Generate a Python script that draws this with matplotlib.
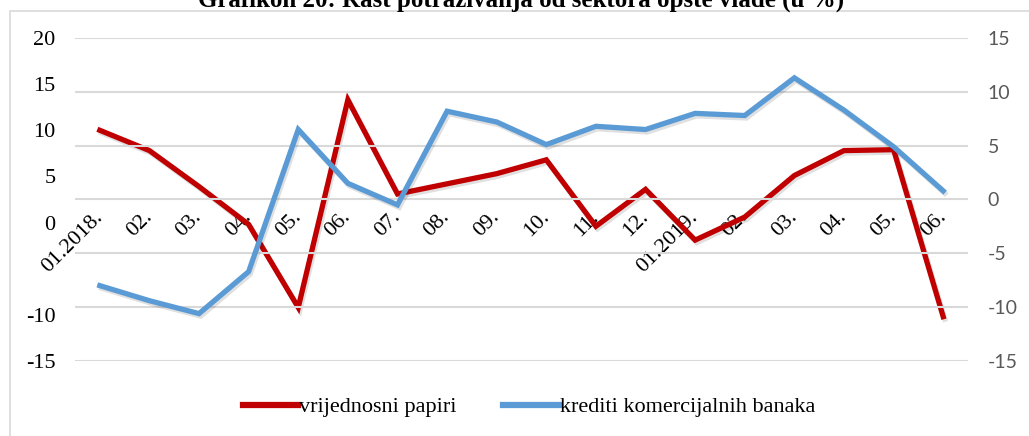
import matplotlib
matplotlib.use("Agg")
import matplotlib.pyplot as plt
import matplotlib.patheffects as pe
from matplotlib.patches import Rectangle

# ---- data ----
categories = ["01.2018.", "02.", "03.", "04.", "05.", "06.", "07.", "08.", "09.",
              "10.", "11.", "12.", "01.2019.", "02.", "03.", "04.", "05.", "06."]
vrijednosni_papiri = [10.0, 7.8, 3.9, -0.2, -9.2, 13.3, 3.1, 4.2, 5.3,
                      6.8, -0.4, 3.6, -1.9, 0.6, 5.1, 7.8, 7.9, -10.2]
krediti_banaka = [-8.0, -9.4, -10.6, -6.7, 6.5, 1.5, -0.5, 8.2, 7.2,
                  5.1, 6.8, 6.5, 8.0, 7.8, 11.3, 8.3, 4.9, 0.8]
left_ticks = [20, 15, 10, 5, 0, -10, -15]
right_ticks = [15, 10, 5, 0, -5, -10, -15]
title = "Grafikon 20: Rast potraživanja od sektora opšte vlade (u %)"
series_names = ["vrijednosni papiri", "krediti komercijalnih banaka"]

RED = "#C00000"
BLUE = "#5B9BD5"
SERIF = "Liberation Serif"
SANS = "Lato"

W, H = 1029, 436
fig = plt.figure(figsize=(W / 100, H / 100), dpi=100)

# outer frame (left and top edges visible)
fig.patches.append(Rectangle((10 / W, -0.1), 1.2, (H - 11) / H + 0.1,
                             transform=fig.transFigure, fill=False,
                             edgecolor="#D9D9D9", linewidth=1.2))

ax = fig.add_axes([75 / W, 1 - 361 / H, (968 - 75) / W, (361 - 38) / H])
ax2 = ax.twinx()

x = list(range(len(categories)))
shadow = [pe.SimpleLineShadow(offset=(1.2, -1.8), shadow_color="black", alpha=0.12),
          pe.Normal()]

ax.plot(x, vrijednosni_papiri, color=RED, lw=3.8, solid_joinstyle="miter",
        path_effects=shadow, label=series_names[0], zorder=3)
ax2.plot(x, krediti_banaka, color=BLUE, lw=3.8, solid_joinstyle="miter",
         path_effects=shadow, label=series_names[1], zorder=3)

ax.set_xlim(-0.5, len(categories) - 0.5)
ax.set_ylim(-15, 20)
ax2.set_ylim(-15, 15)

# gridlines from right axis
ax2.set_yticks(right_ticks)
ax2.set_yticklabels([str(t) for t in right_ticks], family=SANS, fontsize=14,
                    color="#595959")
ax2.yaxis.grid(True, color="#D9D9D9", lw=1.5)
ax2.tick_params(axis="y", length=0, pad=14)

ax.set_yticks(left_ticks)
ax.set_yticklabels([str(t) for t in left_ticks], family=SERIF, fontsize=16,
                   color="black")
ax.tick_params(axis="y", length=0, pad=14)

# category axis crossing at left-axis zero
ax.spines["bottom"].set_position(("data", 0))
ax.set_xticks(x)
ax.set_xticklabels(categories, family=SERIF, fontsize=16, rotation=45,
                   ha="right", va="center", rotation_mode="anchor")
ax.tick_params(axis="x", length=0, pad=-6)

for a in (ax, ax2):
    for s in a.spines.values():
        s.set_visible(False)
ax2.patch.set_visible(False)

# legend
h1, l1 = ax.get_legend_handles_labels()
h2, l2 = ax2.get_legend_handles_labels()
leg = fig.legend(h1 + h2, l1 + l2, loc="center", bbox_to_anchor=(529 / W, 1 - 407 / H),
                 ncol=2, frameon=False, prop={"family": SERIF, "size": 16},
                 handlelength=2.5, handletextpad=0.05, columnspacing=2.1)
for line in leg.get_lines():
    line.set_linewidth(4.5)
    line.set_path_effects([])

fig.text(521 / W, 1 - 7 / H, title, ha="center", va="baseline", family=SERIF,
         fontsize=18, fontweight="bold")

fig.savefig("out.png", dpi=100)
